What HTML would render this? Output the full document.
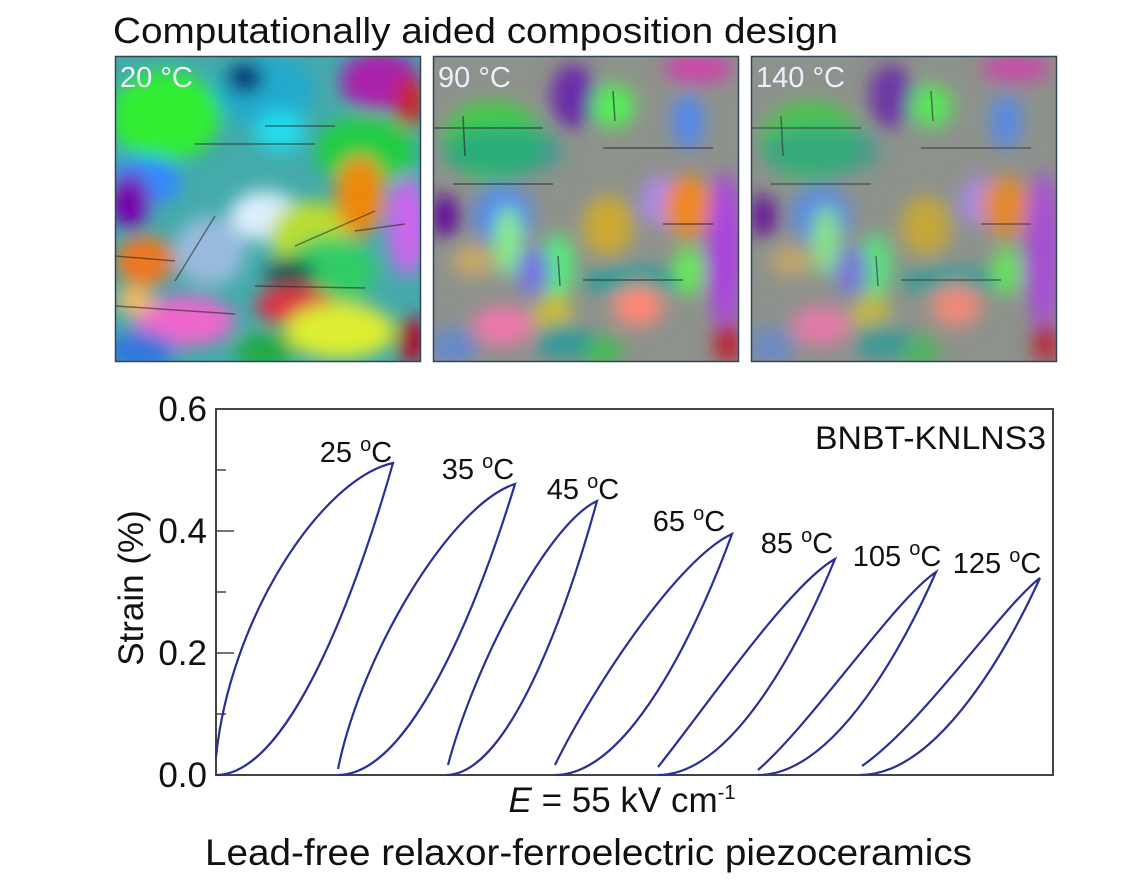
<!DOCTYPE html>
<html><head><meta charset="utf-8"><style>
html,body{margin:0;padding:0;background:#fff;}
body{width:1142px;height:882px;overflow:hidden;position:relative;font-family:"Liberation Sans",sans-serif;}
</style></head><body>
<svg width="1142" height="882" viewBox="0 0 1142 882" xmlns="http://www.w3.org/2000/svg" style="position:absolute;left:0;top:0">
<defs>
<filter id="bl" x="-20%" y="-20%" width="140%" height="140%"><feGaussianBlur stdDeviation="9"/></filter>
<clipPath id="cp"><rect x="0" y="0" width="306" height="306"/></clipPath>
<g id="p2">
<rect x="-20" y="-20" width="350" height="350" fill="#8e928c"/>
<g filter="url(#bl)">
<ellipse cx="140" cy="40" rx="22" ry="32" fill="#6a2aa8"/>
<ellipse cx="60" cy="85" rx="50" ry="40" fill="#44cc44"/>
<ellipse cx="70" cy="95" rx="60" ry="25" fill="#22a090" opacity="0.7"/>
<ellipse cx="180" cy="50" rx="22" ry="22" fill="#55ee55"/>
<ellipse cx="255" cy="65" rx="16" ry="28" fill="#5588ee"/>
<ellipse cx="265" cy="12" rx="35" ry="15" fill="#cc44aa"/>
<ellipse cx="70" cy="160" rx="30" ry="30" fill="#5588ee"/>
<ellipse cx="12" cy="160" rx="15" ry="22" fill="#661199"/>
<ellipse cx="75" cy="185" rx="14" ry="35" fill="#88ee88"/>
<ellipse cx="175" cy="170" rx="25" ry="30" fill="#ccaa33"/>
<ellipse cx="228" cy="145" rx="20" ry="25" fill="#aa88ee"/>
<ellipse cx="255" cy="150" rx="25" ry="30" fill="#ee8822"/>
<ellipse cx="292" cy="195" rx="18" ry="80" fill="#aa44dd"/>
<ellipse cx="125" cy="210" rx="16" ry="32" fill="#55ee77"/>
<ellipse cx="100" cy="215" rx="18" ry="25" fill="#7777dd"/>
<ellipse cx="200" cy="225" rx="50" ry="14" fill="#22a099"/>
<ellipse cx="255" cy="215" rx="14" ry="25" fill="#66ee55"/>
<ellipse cx="40" cy="205" rx="20" ry="15" fill="#ccaa66"/>
<ellipse cx="205" cy="250" rx="25" ry="20" fill="#ff8877"/>
<ellipse cx="70" cy="270" rx="30" ry="20" fill="#ee77aa"/>
<ellipse cx="120" cy="260" rx="20" ry="20" fill="#ccbb33"/>
<ellipse cx="165" cy="295" rx="25" ry="15" fill="#44bb55"/>
<ellipse cx="130" cy="285" rx="28" ry="18" fill="#339999"/>
<ellipse cx="295" cy="288" rx="14" ry="20" fill="#bb2233"/>
<ellipse cx="20" cy="290" rx="25" ry="18" fill="#6688cc"/>
</g>
<g stroke="#223" stroke-width="1.5" opacity="0.6">
<line x1="0" y1="72" x2="110" y2="72"/><line x1="170" y1="92" x2="280" y2="92"/>
<line x1="20" y1="128" x2="120" y2="128"/><line x1="230" y1="168" x2="280" y2="168"/>
<line x1="150" y1="224" x2="250" y2="224"/><line x1="30" y1="60" x2="32" y2="100"/>
<line x1="180" y1="35" x2="182" y2="65"/><line x1="125" y1="200" x2="127" y2="230"/>
</g>
</g>
</defs>

<text x="113" y="43" font-size="36" fill="#111" textLength="725" lengthAdjust="spacingAndGlyphs">Computationally aided composition design</text>

<g transform="translate(115,56)">
<g clip-path="url(#cp)">
<rect x="-20" y="-20" width="350" height="350" fill="#4aa"/>
<g filter="url(#bl)">
<ellipse cx="50" cy="60" rx="55" ry="45" fill="#33ee33"/>
<ellipse cx="150" cy="35" rx="50" ry="35" fill="#22aacc"/>
<ellipse cx="130" cy="22" rx="18" ry="15" fill="#112266"/>
<ellipse cx="265" cy="25" rx="40" ry="30" fill="#aa22aa"/>
<ellipse cx="295" cy="45" rx="15" ry="25" fill="#cc2222"/>
<ellipse cx="250" cy="95" rx="50" ry="35" fill="#22cc44"/>
<ellipse cx="165" cy="75" rx="25" ry="20" fill="#22ddee"/>
<ellipse cx="30" cy="125" rx="35" ry="25" fill="#3388ff"/>
<ellipse cx="15" cy="145" rx="20" ry="28" fill="#7700aa"/>
<ellipse cx="150" cy="160" rx="35" ry="25" fill="#ddeeff"/>
<ellipse cx="195" cy="180" rx="40" ry="35" fill="#bbdd33"/>
<ellipse cx="245" cy="140" rx="25" ry="40" fill="#ee8811"/>
<ellipse cx="292" cy="170" rx="20" ry="50" fill="#cc66ee"/>
<ellipse cx="30" cy="205" rx="30" ry="25" fill="#ee7722"/>
<ellipse cx="95" cy="195" rx="35" ry="35" fill="#99bbdd"/>
<ellipse cx="215" cy="215" rx="45" ry="35" fill="#33cc66"/>
<ellipse cx="175" cy="220" rx="25" ry="18" fill="#115555"/>
<ellipse cx="180" cy="250" rx="40" ry="20" fill="#dd3344"/>
<ellipse cx="225" cy="275" rx="55" ry="28" fill="#ddee33"/>
<ellipse cx="70" cy="265" rx="50" ry="25" fill="#ee66cc"/>
<ellipse cx="25" cy="295" rx="35" ry="20" fill="#3377dd"/>
<ellipse cx="150" cy="295" rx="30" ry="18" fill="#22aa44"/>
<ellipse cx="298" cy="285" rx="15" ry="25" fill="#aa1133"/>
<ellipse cx="20" cy="245" rx="20" ry="15" fill="#eebb66"/>
</g>
<g stroke="#222" stroke-width="1.5" opacity="0.55">
<line x1="80" y1="88" x2="200" y2="88"/><line x1="150" y1="70" x2="220" y2="70"/>
<line x1="0" y1="200" x2="60" y2="205"/><line x1="0" y1="250" x2="120" y2="258"/>
<line x1="140" y1="230" x2="250" y2="232"/><line x1="60" y1="225" x2="100" y2="160"/>
<line x1="180" y1="190" x2="260" y2="155"/><line x1="240" y1="175" x2="290" y2="168"/>
</g>
</g>
<rect x="0.5" y="0.5" width="305" height="305" fill="none" stroke="#345" stroke-width="1.5"/>
<text x="5" y="31" font-size="29" fill="#eef">20 °C</text>
</g>

<g transform="translate(433,56)">
<g clip-path="url(#cp)"><use href="#p2"/></g>
<rect x="0.5" y="0.5" width="305" height="305" fill="none" stroke="#345" stroke-width="1.5"/>
<text x="5" y="31" font-size="29" fill="#eef">90 °C</text>
</g>
<g transform="translate(751,56)">
<g clip-path="url(#cp)"><use href="#p2"/><rect width="306" height="306" fill="#8e928c" opacity="0.12"/></g>
<rect x="0.5" y="0.5" width="305" height="305" fill="none" stroke="#345" stroke-width="1.5"/>
<text x="5" y="31" font-size="29" fill="#eef">140 °C</text>
</g>

<rect x="216" y="409" width="837" height="366" fill="none" stroke="#444" stroke-width="2"/>
<g stroke="#444" stroke-width="1.5">
<line x1="216" y1="470" x2="226" y2="470"/><line x1="216" y1="531" x2="234" y2="531"/>
<line x1="216" y1="592" x2="226" y2="592"/><line x1="216" y1="653" x2="234" y2="653"/>
<line x1="216" y1="714" x2="226" y2="714"/>
</g>
<g font-size="35" fill="#111" text-anchor="end">
<text x="207" y="421">0.6</text><text x="207" y="543">0.4</text>
<text x="207" y="665">0.2</text><text x="207" y="787">0.0</text>
</g>
<text transform="translate(143,588) rotate(-90)" font-size="35" fill="#111" text-anchor="middle">Strain (%)</text>
<text x="815" y="449" font-size="32" fill="#111" textLength="231" lengthAdjust="spacingAndGlyphs">BNBT-KNLNS3</text>

<g fill="none" stroke="#2a2f98" stroke-width="2.2">
<path d="M216,775 C295.7,775 366.5,556.6 393,463 C322.2,478.6 230.2,617 216,757"/>
<path d="M338,775 C417.6,775 488.4,571.3 515,484 C451.3,504.4 361.7,652.6 338,769"/>
<path d="M446,775 C514,775 574.4,583.2 597,501 C547.2,524.3 474.4,665.7 448,765"/>
<path d="M555,775 C634.7,775 705.5,606.3 732,534 C678.9,558.1 593.1,686.7 555,765"/>
<path d="M658,775 C737.7,775 808.5,623.8 835,559 C789,584.9 705.6,707.6 658,767"/>
<path d="M758,775 C838,775 909.3,632.9 936,572 C895,599.4 813.1,721.8 758,770"/>
<path d="M860,775 C941,775 1013,637.1 1040,578 C1002.2,606.6 922.6,724.1 862,766"/>
</g>

<g font-size="29" fill="#111" text-anchor="middle">
<text x="356" y="462">25 <tspan font-size="20" dy="-11">o</tspan><tspan dy="11">C</tspan></text>
<text x="478" y="479">35 <tspan font-size="20" dy="-11">o</tspan><tspan dy="11">C</tspan></text>
<text x="583" y="499">45 <tspan font-size="20" dy="-11">o</tspan><tspan dy="11">C</tspan></text>
<text x="689" y="531">65 <tspan font-size="20" dy="-11">o</tspan><tspan dy="11">C</tspan></text>
<text x="797" y="553">85 <tspan font-size="20" dy="-11">o</tspan><tspan dy="11">C</tspan></text>
<text x="897" y="566">105 <tspan font-size="20" dy="-11">o</tspan><tspan dy="11">C</tspan></text>
<text x="997" y="573">125 <tspan font-size="20" dy="-11">o</tspan><tspan dy="11">C</tspan></text>
</g>

<text x="622" y="812" font-size="35" fill="#111" text-anchor="middle"><tspan font-style="italic">E</tspan> = 55 kV cm<tspan font-size="20" dy="-13">-1</tspan></text>
<text x="205" y="865" font-size="37" fill="#111" textLength="767" lengthAdjust="spacingAndGlyphs">Lead-free relaxor-ferroelectric piezoceramics</text>
</svg>
</body></html>
